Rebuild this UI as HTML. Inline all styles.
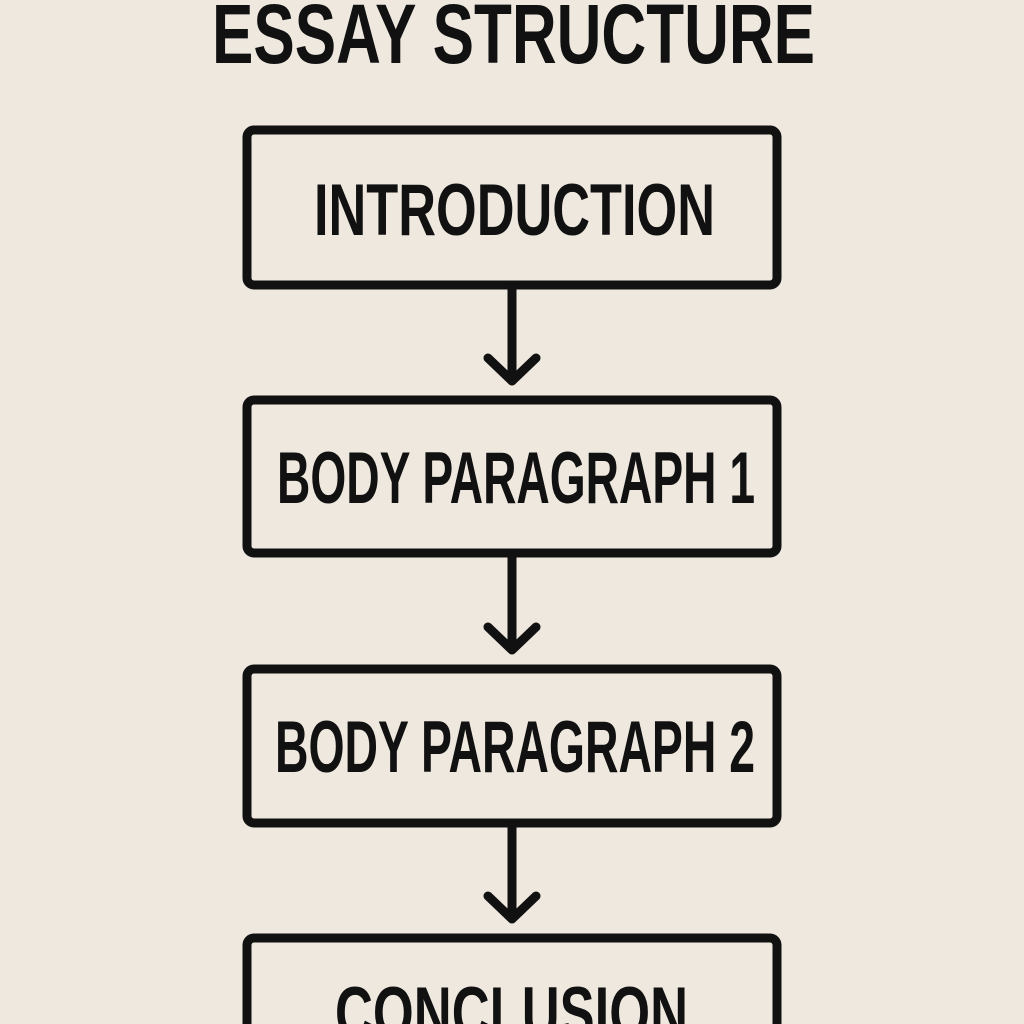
<!DOCTYPE html>
<html><head><style>
html,body{margin:0;padding:0;background:#eee8df;}
svg{display:block}
text{font-family:"Liberation Sans",sans-serif;font-weight:bold;fill:#111;}
</style></head><body>
<svg width="1024" height="1024" viewBox="0 0 1024 1024">
<rect width="1024" height="1024" fill="#eee8df"/>
<text x="212" y="63" font-size="84" textLength="603" lengthAdjust="spacingAndGlyphs">ESSAY STRUCTURE</text>
<g fill="none" stroke="#111" stroke-width="9" stroke-linejoin="round" stroke-linecap="round">
<rect x="247" y="130" width="530" height="155" rx="7"/>
<rect x="247" y="400" width="530" height="153" rx="7"/>
<rect x="247" y="669" width="530" height="154" rx="7"/>
<rect x="247" y="938" width="530" height="120" rx="7"/>
<line x1="512" y1="289" x2="512" y2="380"/>
<polyline points="488,358 512,381 536,358"/>
<line x1="512" y1="557" x2="512" y2="649"/>
<polyline points="488,627 512,650 536,627"/>
<line x1="512" y1="827" x2="512" y2="918"/>
<polyline points="488,896 512,919 536,896"/>
</g>
<text x="314" y="235" font-size="73" textLength="401" lengthAdjust="spacingAndGlyphs">INTRODUCTION</text>
<text x="277" y="503" font-size="73" textLength="478" lengthAdjust="spacingAndGlyphs">BODY PARAGRAPH 1</text>
<text x="275" y="772" font-size="73" textLength="480" lengthAdjust="spacingAndGlyphs">BODY PARAGRAPH 2</text>
<text x="335" y="1038" font-size="73" textLength="353" lengthAdjust="spacingAndGlyphs">CONCLUSION</text>
</svg>
</body></html>
